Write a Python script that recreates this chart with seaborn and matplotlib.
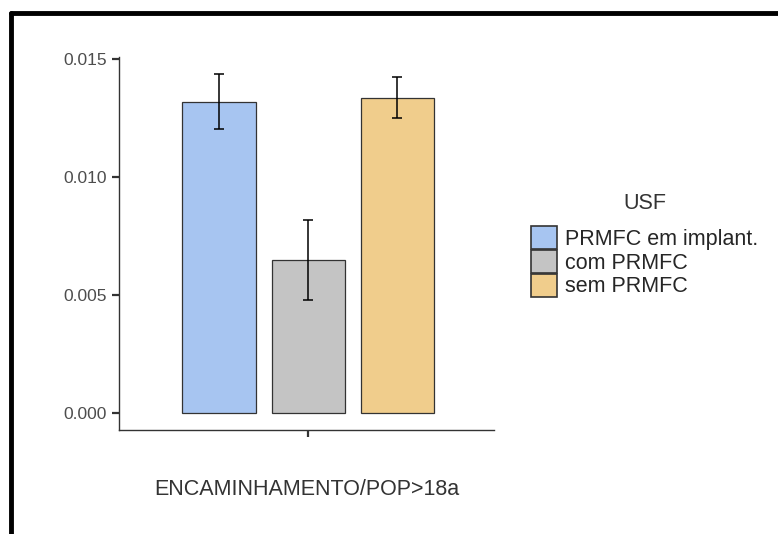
import matplotlib
matplotlib.use("Agg")
import matplotlib.pyplot as plt
from matplotlib.lines import Line2D
import seaborn as sns
import pandas as pd
import numpy as np

# Data
variable = ["ENCAMINHAMENTO/POP>18a"] * 3
groups = ["PRMFC em implant.", "com PRMFC", "sem PRMFC"]
means = [0.01317, 0.00646, 0.01334]
err_low = [0.01202, 0.00480, 0.01249]
err_high = [0.01436, 0.00816, 0.01423]
colors = ["#A7C5F1", "#C4C4C4", "#F0CD8C"]

df = pd.DataFrame({"var": variable, "USF": groups, "value": means})

sns.set_style("white")
plt.rcParams["font.family"] = ["Liberation Sans", "DejaVu Sans"]

fig = plt.figure(figsize=(7.78, 5.34), dpi=100)
ax = fig.add_axes([119/778, 1-430/534, (494-119)/778, (430-57)/534])

sns.barplot(data=df, x="var", y="value", hue="USF", hue_order=groups,
            palette=colors, errorbar=None, width=0.855, gap=0.18,
            edgecolor="#333333", linewidth=0.9, saturation=1, ax=ax, legend=True)

# error bars at bar centres
bars = [p for p in ax.patches if p.get_height() > 0]
for p, m, lo, hi in zip(bars, means, err_low, err_high):
    cx = p.get_x() + p.get_width() / 2
    ax.errorbar([cx], [m], yerr=[[m - lo], [hi - m]], fmt="none",
                ecolor="black", elinewidth=1.1, capsize=3.3, capthick=1.1)

ax.set_xlim(-0.605, 0.595)
ax.set_ylim(-0.00072, 0.01508)
ax.set_yticks([0.0, 0.005, 0.010, 0.015])
ax.set_yticklabels(["0.000", "0.005", "0.010", "0.015"])
ax.set_xticks([0])
ax.set_xticklabels([""])
ax.set_ylabel("")
ax.set_xlabel("ENCAMINHAMENTO/POP>18a", fontsize=15.5, color="#333333", labelpad=26)

for s in ["top", "right"]:
    ax.spines[s].set_visible(False)
for s in ["left", "bottom"]:
    ax.spines[s].set_color("#333333")
    ax.spines[s].set_linewidth(1.0)
ax.tick_params(axis="both", which="both", length=5, width=1.6, color="#333333",
               labelsize=12.5, labelcolor="#4D4D4D", left=True, bottom=True, pad=4)

leg = ax.legend(title="USF", loc="center left", bbox_to_anchor=(1.07, 0.496),
                frameon=False, fontsize=15.5, title_fontsize=15.5,
                handlelength=1.2, handleheight=1.27, labelspacing=0.0,
                handletextpad=0.4, borderpad=0)
leg._legend_box.sep = 9
leg.get_title().set_color("#333333")
for h in leg.legend_handles:
    h.set_edgecolor("#333333")
    h.set_linewidth(1.2)

# outer black frame (top and left visible)
fig.add_artist(Line2D([11/778, 1.0], [1-13/534, 1-13/534], color="black", lw=3.5,
                      transform=fig.transFigure))
fig.add_artist(Line2D([11/778, 11/778], [0.0, 1-13/534], color="black", lw=3.5,
                      transform=fig.transFigure))

fig.savefig("out.png", dpi=100)
